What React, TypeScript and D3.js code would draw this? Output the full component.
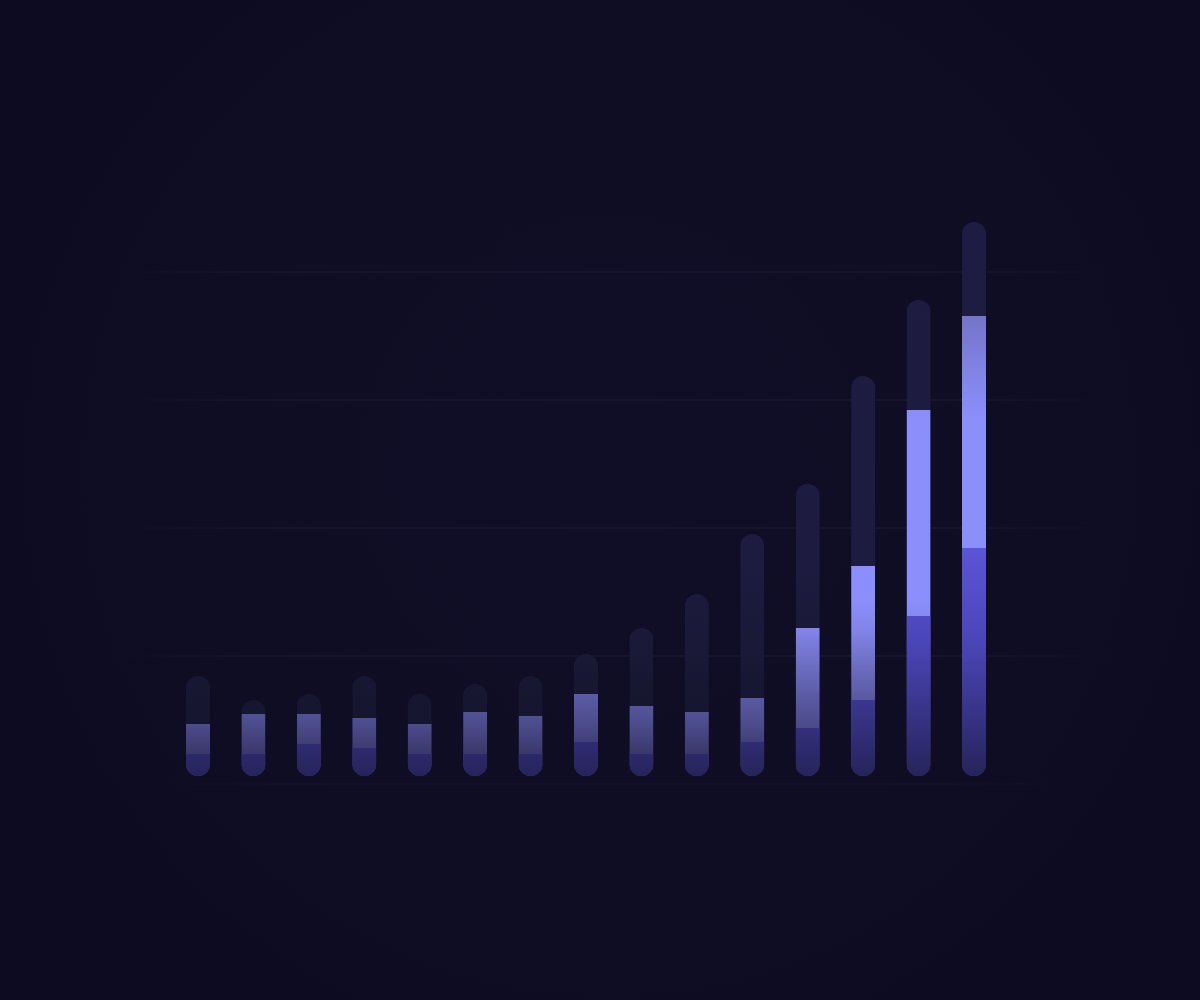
import { useEffect, useRef } from "react";
import * as d3 from "d3";

// categories along the x axis (no labels are shown in the chart)
const categories = ["W1", "W2", "W3", "W4", "W5", "W6", "W7", "W8", "W9", "W10", "W11", "W12", "W13", "W14", "W15"];

// stacked series, bottom to top
const baseValues = [11, 11, 16, 14, 11, 11, 11, 17, 11, 11, 17, 24, 38, 80, 114];
const midValues = [15, 20, 15, 15, 15, 21, 19, 24, 24, 21, 22, 50, 67, 103, 116];
const restValues = [24, 7, 10, 21, 15, 14, 20, 20, 39, 59, 82, 72, 95, 55, 47];

// horizontal grid lines
const gridTicks = [0, 64, 128, 192, 256];

const W = 1200;
const H = 1000;

export default function App() {
  const ref = useRef<SVGSVGElement>(null);

  useEffect(() => {
    if (!ref.current) return;
    const svg = d3.select(ref.current);
    svg.selectAll("*").remove();

    const rows = categories.map((c, i) => ({
      cat: c,
      base: baseValues[i],
      mid: midValues[i],
      rest: restValues[i],
    }));

    const x = d3.scalePoint<string>().domain(categories).range([198, 974]);
    const y = d3.scaleLinear().domain([0, 256]).range([784, 272]);
    const barW = 24;
    const inset = 8; // bars sit a little above the zero line

    const stack = d3.stack<any>().keys(["base", "mid", "rest"]);
    const series = stack(rows);

    const defs = svg.append("defs");

    // soft glow behind the plot
    const bg = defs.append("radialGradient").attr("id", "bgGlow")
      .attr("gradientUnits", "userSpaceOnUse")
      .attr("cx", 610).attr("cy", 470).attr("r", 640);
    bg.append("stop").attr("offset", 0).attr("stop-color", "#0f0e26");
    bg.append("stop").attr("offset", 0.7).attr("stop-color", "#0e0d24");
    bg.append("stop").attr("offset", 1).attr("stop-color", "#0c0b21");

    // gridline fade
    const gridGrad = defs.append("linearGradient").attr("id", "gridGrad")
      .attr("gradientUnits", "userSpaceOnUse").attr("x1", 110).attr("x2", 1120).attr("y1", 0).attr("y2", 0);
    gridGrad.append("stop").attr("offset", 0).attr("stop-color", "#1d1b3a").attr("stop-opacity", 0);
    gridGrad.append("stop").attr("offset", 0.18).attr("stop-color", "#1d1b3a").attr("stop-opacity", 1);
    gridGrad.append("stop").attr("offset", 0.82).attr("stop-color", "#1d1b3a").attr("stop-opacity", 1);
    gridGrad.append("stop").attr("offset", 1).attr("stop-color", "#1d1b3a").attr("stop-opacity", 0);

    // vertical gradients shared by all bars (in page space)
    const vGrad = (id: string, stops: [number, string][]) => {
      const g = defs.append("linearGradient").attr("id", id)
        .attr("gradientUnits", "userSpaceOnUse").attr("x1", 0).attr("x2", 0).attr("y1", 200).attr("y2", 780);
      stops.forEach(([yy, col]) => {
        g.append("stop").attr("offset", (yy - 200) / 580).attr("stop-color", col);
      });
    };
    vGrad("restGrad", [[200, "#1e1c42"], [560, "#1d1b3f"], [640, "#1a1938"], [700, "#171630"], [780, "#15142c"]]);
    vGrad("midGrad", [[300, "#7270c2"], [420, "#8b8ffc"], [600, "#8b8ffc"], [630, "#8284e8"], [694, "#5c5ca6"], [728, "#4a4988"], [756, "#383668"]]);
    vGrad("baseGrad", [[540, "#5c56da"], [640, "#4b46b9"], [700, "#3b3790"], [780, "#252258"]]);

    const fills: Record<string, string> = {
      base: "url(#baseGrad)",
      mid: "url(#midGrad)",
      rest: "url(#restGrad)",
    };

    // background
    svg.append("rect").attr("width", W).attr("height", H).attr("fill", "url(#bgGlow)");

    // grid
    svg.append("g").selectAll("line").data(gridTicks).join("line")
      .attr("x1", 110).attr("x2", 1120)
      .attr("y1", d => y(d)).attr("y2", d => y(d))
      .attr("stroke", "url(#gridGrad)")
      .attr("stroke-width", 1)
      .attr("stroke-opacity", d => (d === 0 ? 0.4 : 1));

    // clip paths: one pill per bar
    rows.forEach((r, i) => {
      const total = r.base + r.mid + r.rest;
      defs.append("clipPath").attr("id", `pill-${i}`)
        .append("rect")
        .attr("x", (x(r.cat) as number) - barW / 2)
        .attr("y", y(total) - inset)
        .attr("width", barW)
        .attr("height", y(0) - y(total))
        .attr("rx", barW / 2);
    });

    const bars = svg.append("g");
    rows.forEach((r, i) => {
      const g = bars.append("g").attr("clip-path", `url(#pill-${i})`);
      // draw the top series first so the lower ones overlap the seams
      [...series].reverse().forEach(s => {
        const d = s[i];
        g.append("rect")
          .attr("x", (x(r.cat) as number) - barW / 2)
          .attr("width", barW)
          .attr("y", y(d[1]) - inset)
          .attr("height", y(0) - y(d[1]))
          .attr("fill", fills[s.key]);
      });
    });
  }, []);

  return (
    <svg
      ref={ref}
      width={W}
      height={H}
      style={{ position: "absolute", left: 0, top: 0, display: "block" }}
    />
  );
}
